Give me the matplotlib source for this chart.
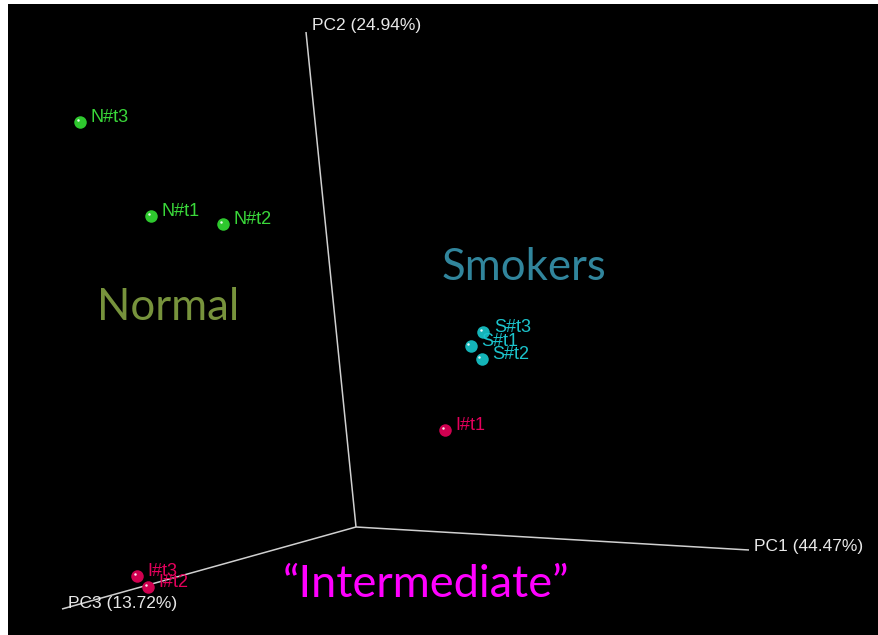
import matplotlib
matplotlib.use("Agg")
import matplotlib.pyplot as plt
from matplotlib.patches import Rectangle

# Sample scores projected onto the screen plane of the 3D PCA view (pixel units)
samples = ["N#t3", "N#t1", "N#t2", "S#t3", "S#t1", "S#t2", "I#t1", "I#t3", "I#t2"]
groups = ["N", "N", "N", "S", "S", "S", "I", "I", "I"]
proj_x = [80.5, 151.0, 223.0, 483.5, 470.7, 481.7, 445.0, 137.3, 148.0]
proj_y = [122.3, 216.3, 224.0, 332.3, 346.3, 358.7, 429.7, 575.7, 586.7]

# Principal component axes: origin and end points of each drawn axis
axis_names = ["PC1 (44.47%)", "PC2 (24.94%)", "PC3 (13.72%)"]
axis_origin = (356.0, 527.0)
axis_end_x = [749.0, 306.0, 62.0]
axis_end_y = [550.0, 32.0, 609.0]

# Group annotations
group_titles = ["Normal", "Smokers", "\u201cIntermediate\u201d"]

W, H = 879, 635
fig = plt.figure(figsize=(W / 100, H / 100), dpi=100)
fig.patch.set_facecolor("white")

left, top = 8, 4
ax = fig.add_axes([left / W, 0, (W - left) / W, (H - top) / H])
ax.set_xlim(left, W)
ax.set_ylim(H, top)
ax.set_facecolor("black")
ax.set_axis_off()
ax.add_patch(Rectangle((left, top), W - left, H - top, facecolor="black",
                       edgecolor="none", zorder=0))

# Axes of the PCA cube
axis_color = "#d0d0d0"
for ex, ey in zip(axis_end_x, axis_end_y):
    ax.plot([axis_origin[0], ex], [axis_origin[1], ey], color=axis_color,
            lw=1.1, solid_capstyle="butt", zorder=2)

axis_label_pos = [(754, 551), (312, 30), (68, 608)]
for name, (lx, ly) in zip(axis_names, axis_label_pos):
    ax.text(lx, ly, name, color="#e8e8e8", fontsize=12.5,
            family="Liberation Sans", ha="left", va="baseline", zorder=5)

marker_colors = {"N": "#2ec82e", "S": "#14b4b8", "I": "#d00050"}
label_colors = {"N": "#3ad83a", "S": "#1cc4cc", "I": "#e4005c"}

for name, g, x, y in zip(samples, groups, proj_x, proj_y):
    ax.plot(x, y, "o", ms=9, color=marker_colors[g], mec="none", zorder=4)
    # specular highlight
    ax.plot(x - 2.2, y - 2.0, "o", ms=1.8, color="white", mec="none",
            alpha=0.9, zorder=4.5)
    ax.annotate(name, (x, y), xytext=(7.5, 0), textcoords="offset points",
                color=label_colors[g], fontsize=13, family="Liberation Sans",
                ha="left", va="baseline", zorder=6)

title_style = [
    (97, 320, "#77933c", 31.5),
    (442, 280, "#31859c", 31.5),
    (283, 597, "#ff00ff", 32.5),
]
for text, (tx, ty, col, fs) in zip(group_titles, title_style):
    ax.text(tx, ty, text, color=col, fontsize=fs, family="Lato",
            ha="left", va="baseline", zorder=5)

fig.savefig("out.png", dpi=100, facecolor=fig.get_facecolor())
